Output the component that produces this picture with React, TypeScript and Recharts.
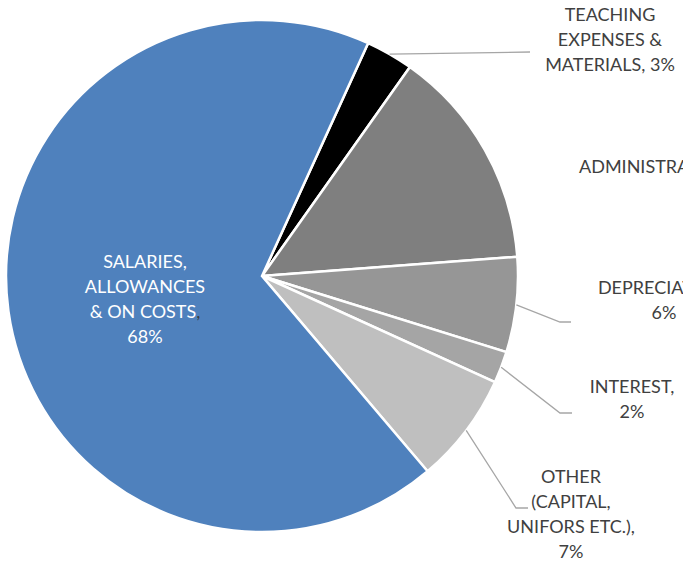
import React from "react";
import { PieChart, Pie, Cell } from "recharts";

// slices in clockwise order, starting just right of 12 o'clock
const categories = [
  "TEACHING EXPENSES & MATERIALS",
  "ADMINISTRATION",
  "DEPRECIATION",
  "INTEREST",
  "OTHER (CAPITAL, UNIFORS ETC.)",
  "SALARIES, ALLOWANCES & ON COSTS",
];
const values = [3, 14, 6, 2, 7, 68];
const colors = ["#000000", "#7f7f7f", "#969696", "#a5a5a5", "#bfbfbf", "#4f81bd"];

// how the category label wraps, and whether the % goes on its own line
const labelLines = [
  ["TEACHING", "EXPENSES &", "MATERIALS"],
  ["ADMINISTRATION"],
  ["DEPRECIATION"],
  ["INTEREST"],
  ["OTHER", "(CAPITAL,", "UNIFORS ETC.)"],
  ["SALARIES,", "ALLOWANCES", "& ON COSTS"],
];
const pctOwnLine = [false, false, true, true, true, true];

const data = categories.map((name, i) => ({ name, value: values[i] }));
const total = values.reduce((a, b) => a + b, 0);

const CX = 262;
const CY = 276;
const R = 256;
const START = 65.5;
const RAD = Math.PI / 180;
const LINE_H = 25;

// label placement relative to the pie centre
type Layout = {
  anchor: "middle" | "start";
  tx: number;
  ty: number; // first baseline
  elbow?: [number, number];
  end?: [number, number];
  inside?: boolean;
};
const layout: Layout[] = [
  { anchor: "middle", tx: 348, ty: -255, elbow: [268, -224], end: [268, -224] },
  { anchor: "start", tx: 317, ty: -103 },
  { anchor: "middle", tx: 402, ty: 18, elbow: [298, 46], end: [309, 46] },
  { anchor: "middle", tx: 370, ty: 117, elbow: [298, 137], end: [310, 137] },
  { anchor: "middle", tx: 309, ty: 207, elbow: [254, 232], end: [266, 232] },
  { anchor: "middle", tx: -117, ty: -8, inside: true },
];

const renderLabel = (props: any) => {
  const { index, midAngle, outerRadius } = props;
  const cx = typeof props.cx === "number" ? props.cx : CX;
  const cy = typeof props.cy === "number" ? props.cy : CY;
  const l = layout[index];
  const pct = `${Math.round((values[index] / total) * 100)}%`;
  const names = labelLines[index];
  const lines: { text: string; comma?: boolean }[] = [];
  names.forEach((n, i) => {
    const last = i === names.length - 1;
    if (!last) lines.push({ text: n });
    else if (pctOwnLine[index]) lines.push({ text: n, comma: true });
    else lines.push({ text: `${n}, ${pct}` });
  });
  if (pctOwnLine[index]) lines.push({ text: pct });

  const sx = cx + outerRadius * Math.cos(-midAngle * RAD);
  const sy = cy + outerRadius * Math.sin(-midAngle * RAD);
  const fill = l.inside ? "#ffffff" : "#404040";

  return (
    <g>
      {l.elbow && l.end && (
        <polyline
          points={`${sx},${sy} ${cx + l.elbow[0]},${cy + l.elbow[1]} ${cx + l.end[0]},${cy + l.end[1]}`}
          fill="none"
          stroke="#a6a6a6"
          strokeWidth={1.3}
        />
      )}
      <text
        x={cx + l.tx}
        y={cy + l.ty}
        textAnchor={l.anchor}
        fill={fill}
        fontFamily="Lato, 'Noto Sans', sans-serif"
        fontSize={18}
      >
        {lines.map((ln, i) => (
          <tspan key={i} x={cx + l.tx} y={cy + l.ty + i * LINE_H}>
            {ln.text}
            {ln.comma && <tspan fill="#404040">,</tspan>}
          </tspan>
        ))}
      </text>
    </g>
  );
};

export default function App() {
  return (
    <div style={{ position: "absolute", left: 0, top: 0, width: 683, height: 566, background: "#fff", overflow: "hidden" }}>
      <PieChart width={683} height={566} margin={{ top: 0, right: 0, bottom: 0, left: 0 }}>
        <Pie
          data={data}
          dataKey="value"
          nameKey="name"
          cx={CX}
          cy={CY}
          outerRadius={R}
          startAngle={START}
          endAngle={START - 360}
          stroke="#ffffff"
          strokeWidth={2.5}
          label={renderLabel}
          labelLine={false}
          isAnimationActive={false}
        >
          {data.map((d, i) => (
            <Cell key={d.name} fill={colors[i]} />
          ))}
        </Pie>
      </PieChart>
    </div>
  );
}
